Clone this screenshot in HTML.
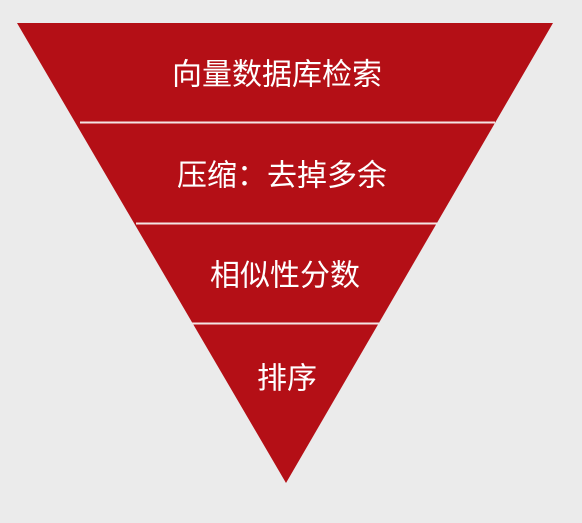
<!DOCTYPE html>
<html><head><meta charset="utf-8"><style>
html,body{margin:0;padding:0;background:#ebebeb;}
svg{display:block;}
text{font-family:"Liberation Sans","Noto Sans CJK SC",sans-serif;fill:#fff;font-size:30px;text-anchor:middle;dominant-baseline:central;}
</style></head><body>
<svg width="582" height="523" viewBox="0 0 582 523">
<rect width="582" height="523" fill="#ebebeb"/>
<polygon points="17,23 553,23 286,483" fill="#b40f16"/>
<line x1="80" y1="122.5" x2="495" y2="122.5" stroke="#f4e4e4" stroke-width="2"/>
<line x1="136" y1="223.5" x2="437" y2="223.5" stroke="#f4e4e4" stroke-width="2"/>
<line x1="192" y1="323.5" x2="379" y2="323.5" stroke="#f4e4e4" stroke-width="2"/>
<text x="277" y="75">向量数据库检索</text>
<text x="282" y="176">压缩：去掉多余</text>
<text x="285" y="276">相似性分数</text>
<text x="287" y="379">排序</text>
</svg>
</body></html>
